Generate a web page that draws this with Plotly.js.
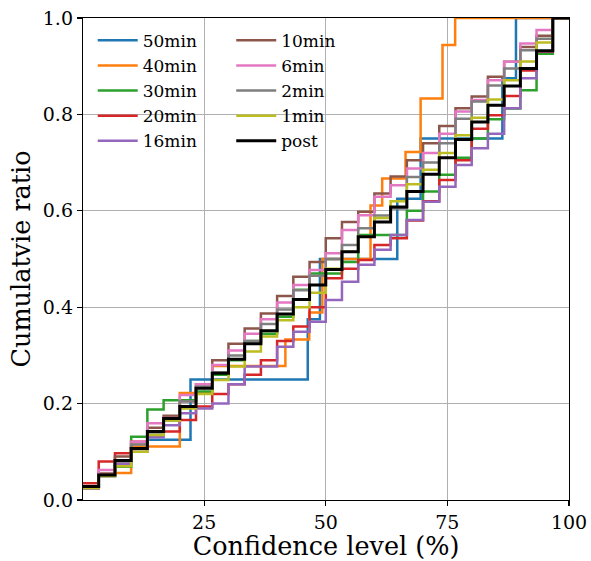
<!DOCTYPE html>
<html>
<head>
<meta charset="utf-8">
<script src="https://cdn.plot.ly/plotly-3.0.1.min.js"></script>
<style>html,body{margin:0;padding:0;background:#fff;}#chart{width:591px;height:561px;}</style>
</head>
<body>
<div id="chart"></div>
<script>
// Confidence level grid (%) where most curves step
const confGrid = [0, 3.33, 6.67, 10, 13.33, 16.67, 20, 23.33, 26.67, 30, 33.33, 36.67, 40, 43.33, 46.67, 50,
  53.33, 56.67, 60, 63.33, 66.67, 70, 73.33, 76.67, 80, 83.33, 86.67, 90, 93.33, 96.67, 100];

// 50min and 40min have their own step positions
const x50 = [13.7, 22.2, 46.3, 48.8, 64.7, 69.5, 86.3, 89.1, 100];
const y50 = [0.125, 0.25, 0.375, 0.5, 0.625, 0.75, 0.875, 1.0, 1.0];

const x40 = [6.67, 10, 20, 26.67, 41.7, 46.6, 49.3, 59.2, 61.6, 66.4, 69.5, 74, 76.6, 100];
const y40 = [0.056, 0.111, 0.222, 0.278, 0.333, 0.389, 0.5, 0.611, 0.667, 0.722, 0.833, 0.944, 1.0, 1.0];

const y30 = [0.025, 0.05, 0.069, 0.131, 0.188, 0.207, 0.207, 0.225, 0.26, 0.29, 0.33, 0.345, 0.38, 0.436, 0.47,
  0.47, 0.494, 0.55, 0.55, 0.55, 0.60, 0.64, 0.675, 0.71, 0.75, 0.79, 0.812, 0.85, 0.926, 1.0, 1.0];
const y20 = [0.035, 0.080, 0.097, 0.121, 0.142, 0.142, 0.166, 0.194, 0.22, 0.24, 0.26, 0.29, 0.33, 0.36, 0.40,
  0.46, 0.48, 0.498, 0.529, 0.543, 0.58, 0.62, 0.664, 0.705, 0.770, 0.798, 0.838, 0.891, 0.93, 1.0, 1.0];
const y16 = [0.024, 0.05, 0.075, 0.10, 0.13, 0.155, 0.18, 0.19, 0.20, 0.24, 0.277, 0.277, 0.318, 0.349, 0.37,
  0.415, 0.453, 0.488, 0.519, 0.55, 0.581, 0.619, 0.65, 0.695, 0.730, 0.76, 0.813, 0.875, 0.931, 1.0, 1.0];
const y10 = [0.025, 0.055, 0.09, 0.12, 0.15, 0.175, 0.205, 0.24, 0.29, 0.324, 0.356, 0.387, 0.423, 0.463, 0.494,
  0.543, 0.577, 0.598, 0.636, 0.671, 0.705, 0.74, 0.776, 0.813, 0.837, 0.878, 0.909, 0.94, 0.963, 1.0, 1.0];
const y6 = [0.025, 0.062, 0.08, 0.121, 0.159, 0.17, 0.218, 0.24, 0.28, 0.31, 0.345, 0.375, 0.41, 0.446, 0.477,
  0.512, 0.56, 0.591, 0.629, 0.653, 0.688, 0.72, 0.76, 0.806, 0.83, 0.871, 0.909, 0.947, 0.975, 1.0, 1.0];
const y2 = [0.025, 0.05, 0.08, 0.115, 0.14, 0.165, 0.205, 0.235, 0.265, 0.30, 0.33, 0.365, 0.395, 0.435, 0.465,
  0.50, 0.529, 0.564, 0.59, 0.605, 0.67, 0.70, 0.74, 0.791, 0.827, 0.86, 0.895, 0.933, 0.957, 1.0, 1.0];
const y1 = [0.025, 0.05, 0.07, 0.10, 0.135, 0.165, 0.19, 0.22, 0.249, 0.277, 0.308, 0.339, 0.373, 0.40, 0.43,
  0.48, 0.515, 0.546, 0.585, 0.62, 0.655, 0.685, 0.72, 0.757, 0.793, 0.831, 0.871, 0.910, 0.949, 1.0, 1.0];
const yPost = [0.028, 0.052, 0.082, 0.107, 0.142, 0.169, 0.194, 0.232, 0.263, 0.292, 0.324, 0.351, 0.386, 0.416, 0.446,
  0.478, 0.515, 0.546, 0.577, 0.608, 0.64, 0.676, 0.71, 0.748, 0.784, 0.819, 0.859, 0.895, 0.932, 1.0, 1.0];

const seriesNames = ['50min', '40min', '30min', '20min', '16min', '10min', '6min', '2min', '1min', 'post'];
const seriesX = [x50, x40, confGrid, confGrid, confGrid, confGrid, confGrid, confGrid, confGrid, confGrid];
const seriesY = [y50, y40, y30, y20, y16, y10, y6, y2, y1, yPost];
const colors = ['#1f77b4', '#ff7f0e', '#2ca02c', '#d62728', '#9467bd', '#8c564b', '#e377c2', '#7f7f7f', '#bcbd22', '#000000'];

const traces = seriesNames.map((name, i) => ({
  type: 'scatter', mode: 'lines', name: name,
  x: seriesX[i], y: seriesY[i],
  line: {shape: 'hv', color: colors[i], width: i === 9 ? 3 : 2.5},
  legend: i < 5 ? 'legend' : 'legend2',
  hoverinfo: 'skip'
}));

const font = 'DejaVu Serif';
const legendBase = {
  bgcolor: 'rgba(0,0,0,0)', borderwidth: 0,
  font: {family: font, size: 17, color: '#000'},
  xanchor: 'left', yanchor: 'top', tracegroupgap: 0, itemwidth: 40
};

const layout = {
  width: 591, height: 561,
  margin: {l: 83, r: 22, t: 18, b: 61},
  paper_bgcolor: '#fff', plot_bgcolor: '#fff',
  showlegend: true,
  font: {family: font, color: '#000'},
  xaxis: {
    range: [0.1, 100], tickvals: [25, 50, 75, 100], ticktext: ['25', '50', '75', '100'],
    showgrid: true, gridcolor: '#b0b0b0', gridwidth: 1,
    showline: true, linecolor: '#000', linewidth: 1.2, mirror: true,
    ticks: 'outside', ticklen: 5, tickwidth: 1.2, tickcolor: '#000',
    tickfont: {family: font, size: 19, color: '#000'},
    zeroline: false,
    title: {text: 'Confidence level (%)', font: {family: font, size: 25.5, color: '#000'}, standoff: 4}
  },
  yaxis: {
    range: [0, 1], tickvals: [0, 0.2, 0.4, 0.6, 0.8, 1.0], ticktext: ['0.0', '0.2', '0.4', '0.6', '0.8', '1.0'],
    showgrid: true, gridcolor: '#b0b0b0', gridwidth: 1,
    showline: true, linecolor: '#000', linewidth: 1.2, mirror: true,
    ticks: 'outside', ticklen: 5, tickwidth: 1.2, tickcolor: '#000',
    tickfont: {family: font, size: 19, color: '#000'},
    zeroline: false,
    title: {text: 'Cumulatvie ratio', font: {family: font, size: 25.5, color: '#000'}, standoff: 4}
  },
  legend: Object.assign({}, legendBase, {x: 0.02, y: 0.99}),
  legend2: Object.assign({}, legendBase, {x: 0.305, y: 0.99})
};

Plotly.newPlot('chart', traces, layout, {displayModeBar: false, staticPlot: true});
</script>
</body>
</html>
